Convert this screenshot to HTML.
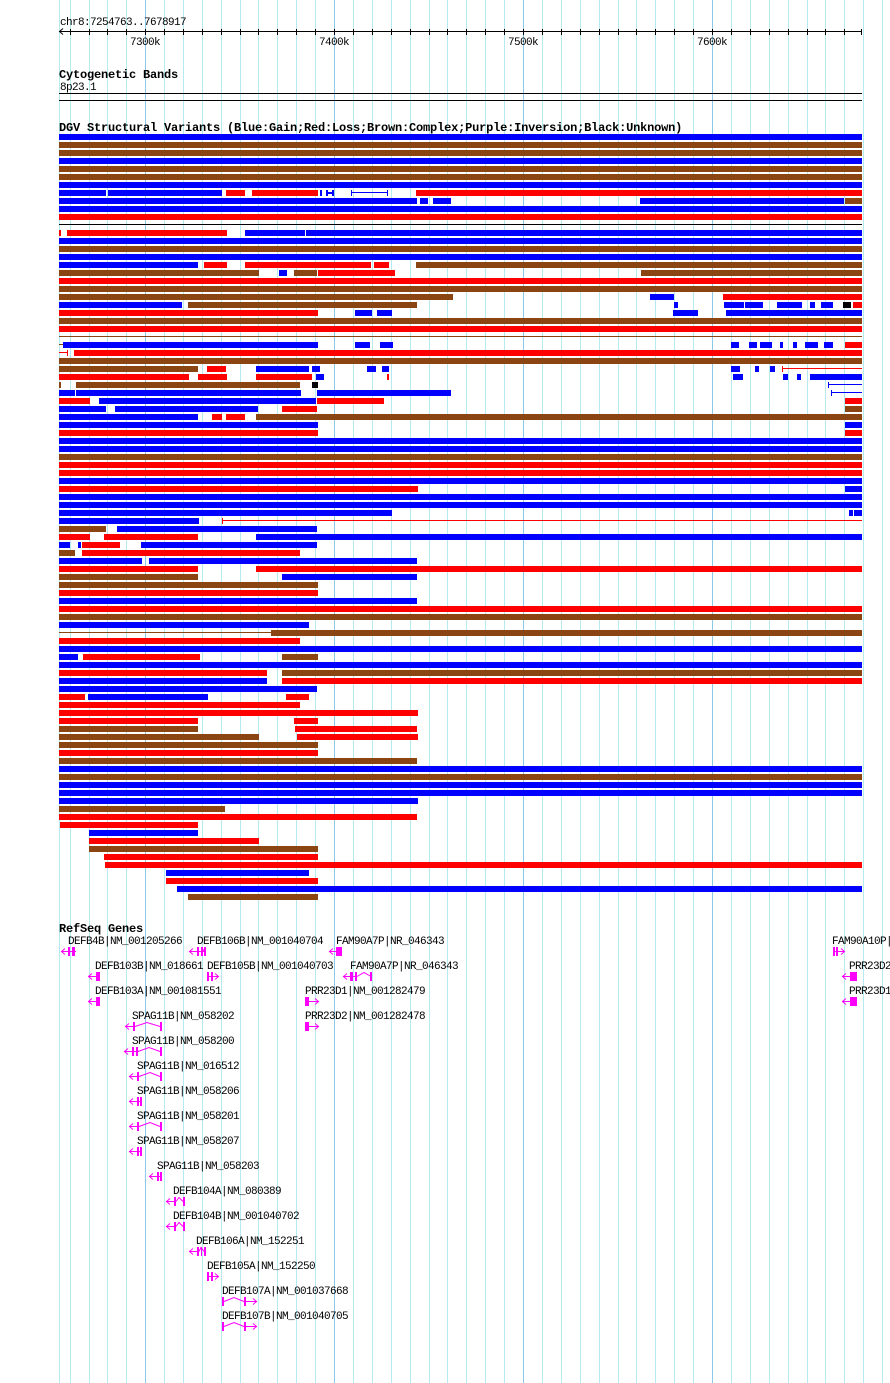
<!DOCTYPE html>
<html><head><meta charset="utf-8"><style>
html,body{margin:0;padding:0;background:#fff;}
svg{display:block;}
.b{fill:#0000ff}.r{fill:#ff0000}.n{fill:#8b4513}.k{fill:#000}
text{font-family:"Liberation Mono",monospace;font-size:11px;letter-spacing:-0.6px;fill:#000}
.t{font-weight:bold;font-size:12px;letter-spacing:-0.2px}
.g line,.g path,.g polyline{stroke:#ff00ff;fill:none;stroke-width:1}
.g rect{fill:#ff00ff}
</style></head><body>
<svg width="890" height="1383" viewBox="0 0 890 1383" xmlns="http://www.w3.org/2000/svg">
<g stroke="#b4eaf0" stroke-width="1">
<line x1="59.5" y1="0" x2="59.5" y2="1383"/>
<line x1="70.5" y1="0" x2="70.5" y2="1383"/><line x1="89.5" y1="0" x2="89.5" y2="1383"/><line x1="107.5" y1="0" x2="107.5" y2="1383"/><line x1="126.5" y1="0" x2="126.5" y2="1383"/>
<line x1="164.5" y1="0" x2="164.5" y2="1383"/><line x1="183.5" y1="0" x2="183.5" y2="1383"/><line x1="202.5" y1="0" x2="202.5" y2="1383"/><line x1="221.5" y1="0" x2="221.5" y2="1383"/><line x1="240.5" y1="0" x2="240.5" y2="1383"/><line x1="258.5" y1="0" x2="258.5" y2="1383"/><line x1="277.5" y1="0" x2="277.5" y2="1383"/><line x1="296.5" y1="0" x2="296.5" y2="1383"/><line x1="315.5" y1="0" x2="315.5" y2="1383"/>
<line x1="353.5" y1="0" x2="353.5" y2="1383"/><line x1="372.5" y1="0" x2="372.5" y2="1383"/><line x1="391.5" y1="0" x2="391.5" y2="1383"/><line x1="410.5" y1="0" x2="410.5" y2="1383"/><line x1="429.5" y1="0" x2="429.5" y2="1383"/><line x1="447.5" y1="0" x2="447.5" y2="1383"/><line x1="466.5" y1="0" x2="466.5" y2="1383"/><line x1="485.5" y1="0" x2="485.5" y2="1383"/><line x1="504.5" y1="0" x2="504.5" y2="1383"/>
<line x1="542.5" y1="0" x2="542.5" y2="1383"/><line x1="561.5" y1="0" x2="561.5" y2="1383"/><line x1="580.5" y1="0" x2="580.5" y2="1383"/><line x1="599.5" y1="0" x2="599.5" y2="1383"/><line x1="618.5" y1="0" x2="618.5" y2="1383"/><line x1="636.5" y1="0" x2="636.5" y2="1383"/><line x1="655.5" y1="0" x2="655.5" y2="1383"/><line x1="674.5" y1="0" x2="674.5" y2="1383"/><line x1="693.5" y1="0" x2="693.5" y2="1383"/>
<line x1="731.5" y1="0" x2="731.5" y2="1383"/><line x1="750.5" y1="0" x2="750.5" y2="1383"/><line x1="769.5" y1="0" x2="769.5" y2="1383"/><line x1="788.5" y1="0" x2="788.5" y2="1383"/><line x1="807.5" y1="0" x2="807.5" y2="1383"/><line x1="825.5" y1="0" x2="825.5" y2="1383"/><line x1="844.5" y1="0" x2="844.5" y2="1383"/><line x1="863.5" y1="0" x2="863.5" y2="1383"/><line x1="882.5" y1="0" x2="882.5" y2="1383"/>
</g>
<g stroke="#8cc8e8" stroke-width="1">
<line x1="145.5" y1="0" x2="145.5" y2="1383"/><line x1="334.5" y1="0" x2="334.5" y2="1383"/><line x1="523.5" y1="0" x2="523.5" y2="1383"/><line x1="712.5" y1="0" x2="712.5" y2="1383"/>
</g>
<text x="60" y="25">chr8:7254763..7678917</text>
<g stroke="#000" stroke-width="1">
<line x1="59" y1="31.5" x2="862" y2="31.5"/>
<polyline points="63,28.5 59.5,31.5 63,34.5" fill="none"/>
<line x1="70.5" y1="29" x2="70.5" y2="35"/><line x1="89.5" y1="29" x2="89.5" y2="35"/><line x1="107.5" y1="29" x2="107.5" y2="35"/><line x1="126.5" y1="29" x2="126.5" y2="35"/><line x1="145.5" y1="29" x2="145.5" y2="35"/><line x1="164.5" y1="29" x2="164.5" y2="35"/><line x1="183.5" y1="29" x2="183.5" y2="35"/><line x1="202.5" y1="29" x2="202.5" y2="35"/><line x1="221.5" y1="29" x2="221.5" y2="35"/><line x1="240.5" y1="29" x2="240.5" y2="35"/><line x1="258.5" y1="29" x2="258.5" y2="35"/><line x1="277.5" y1="29" x2="277.5" y2="35"/><line x1="296.5" y1="29" x2="296.5" y2="35"/><line x1="315.5" y1="29" x2="315.5" y2="35"/><line x1="334.5" y1="29" x2="334.5" y2="35"/><line x1="353.5" y1="29" x2="353.5" y2="35"/><line x1="372.5" y1="29" x2="372.5" y2="35"/><line x1="391.5" y1="29" x2="391.5" y2="35"/><line x1="410.5" y1="29" x2="410.5" y2="35"/><line x1="429.5" y1="29" x2="429.5" y2="35"/><line x1="447.5" y1="29" x2="447.5" y2="35"/><line x1="466.5" y1="29" x2="466.5" y2="35"/><line x1="485.5" y1="29" x2="485.5" y2="35"/><line x1="504.5" y1="29" x2="504.5" y2="35"/><line x1="523.5" y1="29" x2="523.5" y2="35"/><line x1="542.5" y1="29" x2="542.5" y2="35"/><line x1="561.5" y1="29" x2="561.5" y2="35"/><line x1="580.5" y1="29" x2="580.5" y2="35"/><line x1="599.5" y1="29" x2="599.5" y2="35"/><line x1="618.5" y1="29" x2="618.5" y2="35"/><line x1="636.5" y1="29" x2="636.5" y2="35"/><line x1="655.5" y1="29" x2="655.5" y2="35"/><line x1="674.5" y1="29" x2="674.5" y2="35"/><line x1="693.5" y1="29" x2="693.5" y2="35"/><line x1="712.5" y1="29" x2="712.5" y2="35"/><line x1="731.5" y1="29" x2="731.5" y2="35"/><line x1="750.5" y1="29" x2="750.5" y2="35"/><line x1="769.5" y1="29" x2="769.5" y2="35"/><line x1="788.5" y1="29" x2="788.5" y2="35"/><line x1="807.5" y1="29" x2="807.5" y2="35"/><line x1="825.5" y1="29" x2="825.5" y2="35"/><line x1="844.5" y1="29" x2="844.5" y2="35"/><line x1="861.5" y1="29" x2="861.5" y2="35"/>
</g>
<text x="145" y="45" text-anchor="middle">7300k</text>
<text x="334" y="45" text-anchor="middle">7400k</text>
<text x="523" y="45" text-anchor="middle">7500k</text>
<text x="712" y="45" text-anchor="middle">7600k</text>
<text class="t" x="59" y="78">Cytogenetic Bands</text>
<text x="60" y="90">8p23.1</text>
<rect x="59" y="93" width="803" height="1" class="k"/>
<rect x="59" y="100" width="803" height="1" class="k"/>
<text class="t" x="59" y="131">DGV Structural Variants (Blue:Gain;Red:Loss;Brown:Complex;Purple:Inversion;Black:Unknown)</text>
<g>
<rect class="b" x="59" y="134" width="803" height="6"/>
<rect class="n" x="59" y="142" width="803" height="6"/>
<rect class="n" x="59" y="150" width="803" height="6"/>
<rect class="b" x="59" y="158" width="803" height="6"/>
<rect class="n" x="59" y="166" width="803" height="6"/>
<rect class="n" x="59" y="174" width="803" height="6"/>
<rect class="b" x="59" y="182" width="803" height="6"/>
<rect class="b" x="59" y="190" width="47" height="6"/><rect class="b" x="108" y="190" width="114" height="6"/><rect class="r" x="226" y="190" width="19" height="6"/><rect class="r" x="252" y="190" width="66" height="6"/><rect class="b" x="320" y="190" width="2" height="6"/><rect class="b" x="326" y="190" width="2" height="6"/><rect class="b" x="326" y="192" width="8" height="2"/><rect class="b" x="332" y="190" width="2" height="6"/><rect class="b" x="351" y="192" width="37" height="1"/><rect class="b" x="351" y="190" width="1" height="6"/><rect class="b" x="387" y="190" width="1" height="6"/><rect class="r" x="416" y="190" width="446" height="6"/>
<rect class="b" x="59" y="198" width="358" height="6"/><rect class="b" x="420" y="198" width="8" height="6"/><rect class="b" x="433" y="198" width="18" height="6"/><rect class="b" x="640" y="198" width="204" height="6"/><rect class="n" x="845" y="198" width="17" height="6"/>
<rect class="b" x="59" y="206" width="803" height="6"/>
<rect class="r" x="59" y="214" width="803" height="6"/>
<rect class="k" x="59" y="224" width="803" height="1"/>
<rect class="r" x="59" y="230" width="2" height="6"/><rect class="r" x="67" y="230" width="160" height="6"/><rect class="b" x="245" y="230" width="60" height="6"/><rect class="b" x="306" y="230" width="556" height="6"/>
<rect class="b" x="59" y="238" width="803" height="6"/>
<rect class="n" x="59" y="246" width="803" height="6"/>
<rect class="b" x="59" y="254" width="803" height="6"/>
<rect class="b" x="59" y="262" width="139" height="6"/><rect class="r" x="204" y="262" width="23" height="6"/><rect class="r" x="245" y="262" width="126" height="6"/><rect class="r" x="374" y="262" width="15" height="6"/><rect class="n" x="416" y="262" width="446" height="6"/>
<rect class="n" x="59" y="270" width="200" height="6"/><rect class="b" x="279" y="270" width="8" height="6"/><rect class="n" x="294" y="270" width="23" height="6"/><rect class="r" x="318" y="270" width="77" height="6"/><rect class="n" x="641" y="270" width="221" height="6"/>
<rect class="r" x="59" y="278" width="803" height="6"/>
<rect class="n" x="59" y="286" width="803" height="6"/>
<rect class="n" x="59" y="294" width="394" height="6"/><rect class="b" x="650" y="294" width="24" height="6"/><rect class="r" x="723" y="294" width="139" height="6"/>
<rect class="b" x="59" y="302" width="123" height="6"/><rect class="n" x="188" y="302" width="229" height="6"/><rect class="b" x="674" y="302" width="4" height="6"/><rect class="b" x="724" y="302" width="20" height="6"/><rect class="b" x="745" y="302" width="18" height="6"/><rect class="b" x="777" y="302" width="25" height="6"/><rect class="b" x="810" y="302" width="5" height="6"/><rect class="b" x="821" y="302" width="12" height="6"/><rect class="k" x="843" y="302" width="8" height="6"/><rect class="r" x="853" y="302" width="9" height="6"/>
<rect class="r" x="59" y="310" width="259" height="6"/><rect class="b" x="355" y="310" width="17" height="6"/><rect class="b" x="377" y="310" width="15" height="6"/><rect class="b" x="673" y="310" width="25" height="6"/><rect class="b" x="726" y="310" width="136" height="6"/>
<rect class="n" x="59" y="318" width="803" height="6"/>
<rect class="r" x="59" y="326" width="803" height="6"/>
<rect class="n" x="59" y="336" width="803" height="1"/>
<rect class="n" x="59" y="344" width="4" height="1"/><rect class="b" x="63" y="342" width="255" height="6"/><rect class="b" x="355" y="342" width="15" height="6"/><rect class="b" x="380" y="342" width="13" height="6"/><rect class="b" x="731" y="342" width="8" height="6"/><rect class="b" x="749" y="342" width="8" height="6"/><rect class="b" x="760" y="342" width="12" height="6"/><rect class="b" x="780" y="342" width="3" height="6"/><rect class="b" x="793" y="342" width="4" height="6"/><rect class="b" x="805" y="342" width="13" height="6"/><rect class="b" x="824" y="342" width="9" height="6"/><rect class="r" x="845" y="342" width="17" height="6"/>
<rect class="r" x="59" y="352" width="9" height="1"/><rect class="r" x="67" y="350" width="1" height="6"/><rect class="r" x="74" y="350" width="788" height="6"/>
<rect class="n" x="59" y="358" width="803" height="6"/>
<rect class="n" x="59" y="366" width="139" height="6"/><rect class="r" x="207" y="366" width="19" height="6"/><rect class="b" x="256" y="366" width="53" height="6"/><rect class="b" x="312" y="366" width="8" height="6"/><rect class="b" x="367" y="366" width="9" height="6"/><rect class="b" x="382" y="366" width="7" height="6"/><rect class="b" x="731" y="366" width="9" height="6"/><rect class="b" x="755" y="366" width="4" height="6"/><rect class="b" x="770" y="366" width="5" height="6"/><rect class="r" x="782" y="366" width="1" height="6"/><rect class="r" x="782" y="368" width="80" height="1"/>
<rect class="r" x="59" y="374" width="130" height="6"/><rect class="r" x="198" y="374" width="29" height="6"/><rect class="r" x="256" y="374" width="56" height="6"/><rect class="b" x="316" y="374" width="8" height="6"/><rect class="r" x="387" y="374" width="2" height="6"/><rect class="b" x="733" y="374" width="10" height="6"/><rect class="b" x="783" y="374" width="5" height="6"/><rect class="b" x="797" y="374" width="4" height="6"/><rect class="b" x="810" y="374" width="52" height="6"/>
<rect class="n" x="59" y="382" width="2" height="6"/><rect class="n" x="76" y="382" width="224" height="6"/><rect class="k" x="312" y="382" width="6" height="6"/><rect class="b" x="828" y="382" width="1" height="6"/><rect class="b" x="828" y="384" width="34" height="1"/>
<rect class="b" x="59" y="390" width="16" height="6"/><rect class="b" x="76" y="390" width="225" height="6"/><rect class="b" x="317" y="390" width="134" height="6"/><rect class="b" x="831" y="390" width="1" height="6"/><rect class="b" x="831" y="392" width="31" height="1"/>
<rect class="r" x="59" y="398" width="31" height="6"/><rect class="b" x="99" y="398" width="217" height="6"/><rect class="r" x="317" y="398" width="67" height="6"/><rect class="r" x="845" y="398" width="17" height="6"/>
<rect class="b" x="59" y="406" width="47" height="6"/><rect class="b" x="115" y="406" width="143" height="6"/><rect class="r" x="282" y="406" width="35" height="6"/><rect class="n" x="845" y="406" width="17" height="6"/>
<rect class="b" x="59" y="414" width="139" height="6"/><rect class="r" x="212" y="414" width="10" height="6"/><rect class="r" x="226" y="414" width="19" height="6"/><rect class="n" x="256" y="414" width="606" height="6"/>
<rect class="b" x="59" y="422" width="259" height="6"/><rect class="b" x="845" y="422" width="17" height="6"/>
<rect class="r" x="59" y="430" width="259" height="6"/><rect class="r" x="845" y="430" width="17" height="6"/>
<rect class="b" x="59" y="438" width="803" height="6"/>
<rect class="b" x="59" y="446" width="803" height="6"/>
<rect class="n" x="59" y="454" width="803" height="6"/>
<rect class="r" x="59" y="462" width="803" height="6"/>
<rect class="r" x="59" y="470" width="803" height="6"/>
<rect class="b" x="59" y="478" width="803" height="6"/>
<rect class="r" x="59" y="486" width="359" height="6"/><rect class="b" x="845" y="486" width="17" height="6"/>
<rect class="b" x="59" y="494" width="803" height="6"/>
<rect class="b" x="59" y="502" width="803" height="6"/>
<rect class="b" x="59" y="510" width="333" height="6"/><rect class="b" x="849" y="510" width="4" height="6"/><rect class="b" x="854" y="510" width="8" height="6"/>
<rect class="b" x="59" y="518" width="140" height="6"/><rect class="r" x="222" y="518" width="1" height="6"/><rect class="r" x="222" y="520" width="640" height="1"/>
<rect class="n" x="59" y="526" width="47" height="6"/><rect class="b" x="117" y="526" width="200" height="6"/>
<rect class="r" x="59" y="534" width="31" height="6"/><rect class="r" x="104" y="534" width="94" height="6"/><rect class="b" x="256" y="534" width="606" height="6"/>
<rect class="b" x="59" y="542" width="11" height="6"/><rect class="b" x="78" y="542" width="3" height="6"/><rect class="r" x="82" y="542" width="38" height="6"/><rect class="b" x="141" y="542" width="176" height="6"/>
<rect class="n" x="59" y="550" width="16" height="6"/><rect class="r" x="82" y="550" width="218" height="6"/>
<rect class="b" x="59" y="558" width="83" height="6"/><rect class="b" x="149" y="558" width="268" height="6"/>
<rect class="r" x="59" y="566" width="139" height="6"/><rect class="r" x="256" y="566" width="606" height="6"/>
<rect class="n" x="59" y="574" width="139" height="6"/><rect class="b" x="282" y="574" width="135" height="6"/>
<rect class="n" x="59" y="582" width="259" height="6"/>
<rect class="r" x="59" y="590" width="259" height="6"/>
<rect class="b" x="59" y="598" width="358" height="6"/>
<rect class="r" x="59" y="606" width="803" height="6"/>
<rect class="n" x="59" y="614" width="803" height="6"/>
<rect class="b" x="59" y="622" width="250" height="6"/>
<rect class="n" x="59" y="632" width="212" height="1"/><rect class="n" x="271" y="630" width="591" height="6"/>
<rect class="r" x="59" y="638" width="241" height="6"/>
<rect class="b" x="59" y="646" width="803" height="6"/>
<rect class="b" x="59" y="654" width="19" height="6"/><rect class="r" x="83" y="654" width="117" height="6"/><rect class="n" x="282" y="654" width="36" height="6"/>
<rect class="b" x="59" y="662" width="803" height="6"/>
<rect class="r" x="59" y="670" width="208" height="6"/><rect class="n" x="282" y="670" width="580" height="6"/>
<rect class="b" x="59" y="678" width="208" height="6"/><rect class="r" x="282" y="678" width="580" height="6"/>
<rect class="b" x="59" y="686" width="258" height="6"/>
<rect class="r" x="59" y="694" width="26" height="6"/><rect class="b" x="88" y="694" width="120" height="6"/><rect class="r" x="286" y="694" width="23" height="6"/>
<rect class="r" x="59" y="702" width="241" height="6"/>
<rect class="r" x="59" y="710" width="359" height="6"/>
<rect class="r" x="59" y="718" width="139" height="6"/><rect class="r" x="294" y="718" width="24" height="6"/>
<rect class="n" x="59" y="726" width="139" height="6"/><rect class="r" x="295" y="726" width="122" height="6"/>
<rect class="n" x="59" y="734" width="200" height="6"/><rect class="r" x="297" y="734" width="121" height="6"/>
<rect class="n" x="59" y="742" width="259" height="6"/>
<rect class="r" x="59" y="750" width="259" height="6"/>
<rect class="n" x="59" y="758" width="358" height="6"/>
<rect class="b" x="59" y="766" width="803" height="6"/>
<rect class="n" x="59" y="774" width="803" height="6"/>
<rect class="b" x="59" y="782" width="803" height="6"/>
<rect class="b" x="59" y="790" width="803" height="6"/>
<rect class="b" x="59" y="798" width="359" height="6"/>
<rect class="n" x="59" y="806" width="166" height="6"/>
<rect class="r" x="59" y="814" width="358" height="6"/>
<rect class="r" x="60" y="822" width="138" height="6"/>
<rect class="b" x="89" y="830" width="109" height="6"/>
<rect class="r" x="89" y="838" width="170" height="6"/>
<rect class="n" x="89" y="846" width="229" height="6"/>
<rect class="r" x="104" y="854" width="214" height="6"/>
<rect class="r" x="105" y="862" width="757" height="6"/>
<rect class="b" x="166" y="870" width="143" height="6"/>
<rect class="r" x="166" y="878" width="152" height="6"/>
<rect class="b" x="177" y="886" width="685" height="6"/>
<rect class="n" x="188" y="894" width="130" height="6"/>
</g>
<text class="t" x="59" y="932">RefSeq Genes</text>
<text x="68" y="944">DEFB4B|NM_001205266</text>
<text x="197" y="944">DEFB106B|NM_001040704</text>
<text x="336" y="944">FAM90A7P|NR_046343</text>
<text x="832" y="944">FAM90A10P|</text>
<text x="95" y="969">DEFB103B|NM_018661</text>
<text x="207" y="969">DEFB105B|NM_001040703</text>
<text x="350" y="969">FAM90A7P|NR_046343</text>
<text x="849" y="969">PRR23D2</text>
<text x="95" y="994">DEFB103A|NM_001081551</text>
<text x="305" y="994">PRR23D1|NM_001282479</text>
<text x="849" y="994">PRR23D1</text>
<text x="132" y="1019">SPAG11B|NM_058202</text>
<text x="305" y="1019">PRR23D2|NM_001282478</text>
<text x="132" y="1044">SPAG11B|NM_058200</text>
<text x="137" y="1069">SPAG11B|NM_016512</text>
<text x="137" y="1094">SPAG11B|NM_058206</text>
<text x="137" y="1119">SPAG11B|NM_058201</text>
<text x="137" y="1144">SPAG11B|NM_058207</text>
<text x="157" y="1169">SPAG11B|NM_058203</text>
<text x="173" y="1194">DEFB104A|NM_080389</text>
<text x="173" y="1219">DEFB104B|NM_001040702</text>
<text x="196" y="1244">DEFB106A|NM_152251</text>
<text x="207" y="1269">DEFB105A|NM_152250</text>
<text x="222" y="1294">DEFB107A|NM_001037668</text>
<text x="222" y="1319">DEFB107B|NM_001040705</text>
<g class="g">
<line x1="61" y1="951.5" x2="76" y2="951.5"/><polyline points="65,948.5 61.5,951.5 65,954.5"/><rect x="68" y="947" width="2" height="9"/><rect x="72" y="947" width="3" height="9"/>
<line x1="189" y1="951.5" x2="206" y2="951.5"/><polyline points="193,948.5 189.5,951.5 193,954.5"/><rect x="197" y="947" width="2" height="9"/><rect x="201" y="947" width="2" height="9"/><rect x="204" y="947" width="2" height="9"/><polyline points="202,948 204,951"/>
<line x1="329" y1="951.5" x2="342" y2="951.5"/><polyline points="333,948.5 329.5,951.5 333,954.5"/><rect x="336" y="947" width="6" height="9"/>
<line x1="833" y1="951.5" x2="845" y2="951.5"/><polyline points="841,948.5 844.5,951.5 841,954.5"/><rect x="833" y="947" width="2" height="9"/><rect x="836" y="947" width="2" height="9"/>
<line x1="88" y1="976.5" x2="100" y2="976.5"/><polyline points="92,973.5 88.5,976.5 92,979.5"/><rect x="96" y="972" width="4" height="9"/>
<line x1="207" y1="976.5" x2="219" y2="976.5"/><polyline points="215,973.5 218.5,976.5 215,979.5"/><rect x="207" y="972" width="2" height="9"/><rect x="211" y="972" width="2" height="9"/>
<line x1="343" y1="976.5" x2="357" y2="976.5"/><polyline points="347,973.5 343.5,976.5 347,979.5"/><rect x="350" y="972" width="3" height="9"/><rect x="355" y="972" width="2" height="9"/><polyline points="357,976.5 364,972.5 371,976.5"/><rect x="370" y="972" width="2" height="9"/>
<line x1="842" y1="976.5" x2="857" y2="976.5"/><polyline points="846,973.5 842.5,976.5 846,979.5"/><rect x="850" y="972" width="7" height="9"/>
<line x1="88" y1="1001.5" x2="100" y2="1001.5"/><polyline points="92,998.5 88.5,1001.5 92,1004.5"/><rect x="96" y="997" width="4" height="9"/>
<line x1="305" y1="1001.5" x2="319" y2="1001.5"/><polyline points="315,998.5 318.5,1001.5 315,1004.5"/><rect x="305" y="997" width="4" height="9"/>
<line x1="842" y1="1001.5" x2="857" y2="1001.5"/><polyline points="846,998.5 842.5,1001.5 846,1004.5"/><rect x="850" y="997" width="7" height="9"/>
<line x1="125" y1="1026.5" x2="134" y2="1026.5"/><polyline points="129,1023.5 125.5,1026.5 129,1029.5"/><rect x="133" y="1022" width="2" height="9"/><polyline points="135,1026.5 147,1022.5 160,1026.5"/><rect x="160" y="1022" width="2" height="9"/>
<line x1="305" y1="1026.5" x2="319" y2="1026.5"/><polyline points="315,1023.5 318.5,1026.5 315,1029.5"/><rect x="305" y="1022" width="4" height="9"/>
<line x1="124" y1="1051.5" x2="139" y2="1051.5"/><polyline points="128,1048.5 124.5,1051.5 128,1054.5"/><rect x="132" y="1047" width="2" height="9"/><rect x="136" y="1047" width="2" height="9"/><polyline points="138,1051.5 149,1047.5 160,1051.5"/><rect x="160" y="1047" width="2" height="9"/>
<line x1="129" y1="1076.5" x2="139" y2="1076.5"/><polyline points="133,1073.5 129.5,1076.5 133,1079.5"/><rect x="137" y="1072" width="2" height="9"/><polyline points="139,1076.5 150,1072.5 160,1076.5"/><rect x="160" y="1072" width="2" height="9"/>
<line x1="129" y1="1101.5" x2="142" y2="1101.5"/><polyline points="133,1098.5 129.5,1101.5 133,1104.5"/><rect x="137" y="1097" width="2" height="9"/><rect x="140" y="1097" width="2" height="9"/>
<line x1="129" y1="1126.5" x2="139" y2="1126.5"/><polyline points="133,1123.5 129.5,1126.5 133,1129.5"/><rect x="137" y="1122" width="2" height="9"/><polyline points="139,1126.5 150,1122.5 160,1126.5"/><rect x="160" y="1122" width="2" height="9"/>
<line x1="129" y1="1151.5" x2="142" y2="1151.5"/><polyline points="133,1148.5 129.5,1151.5 133,1154.5"/><rect x="137" y="1147" width="2" height="9"/><rect x="140" y="1147" width="2" height="9"/>
<line x1="149" y1="1176.5" x2="162" y2="1176.5"/><polyline points="153,1173.5 149.5,1176.5 153,1179.5"/><rect x="157" y="1172" width="2" height="9"/><rect x="160" y="1172" width="2" height="9"/>
<line x1="166" y1="1201.5" x2="176" y2="1201.5"/><polyline points="170,1198.5 166.5,1201.5 170,1204.5"/><rect x="174" y="1197" width="2" height="9"/><polyline points="176,1201.5 179,1197.5 183,1201.5"/><rect x="183" y="1197" width="2" height="9"/>
<line x1="166" y1="1226.5" x2="176" y2="1226.5"/><polyline points="170,1223.5 166.5,1226.5 170,1229.5"/><rect x="174" y="1222" width="2" height="9"/><polyline points="176,1226.5 179,1222.5 183,1226.5"/><rect x="183" y="1222" width="2" height="9"/>
<line x1="189" y1="1251.5" x2="199" y2="1251.5"/><polyline points="193,1248.5 189.5,1251.5 193,1254.5"/><rect x="197" y="1247" width="2" height="9"/><polyline points="199,1251.5 201,1247.5 204,1251.5"/><rect x="201" y="1247" width="1" height="9"/><rect x="204" y="1247" width="2" height="9"/>
<line x1="207" y1="1276.5" x2="219" y2="1276.5"/><polyline points="215,1273.5 218.5,1276.5 215,1279.5"/><rect x="207" y="1272" width="2" height="9"/><rect x="211" y="1272" width="2" height="9"/>
<rect x="222" y="1297" width="2" height="9"/><polyline points="224,1301.5 234,1297.5 244,1301.5"/><line x1="244" y1="1301.5" x2="257" y2="1301.5"/><rect x="244" y="1297" width="2" height="9"/><polyline points="253,1298.5 256.5,1301.5 253,1304.5"/>
<rect x="222" y="1322" width="2" height="9"/><polyline points="224,1326.5 234,1322.5 244,1326.5"/><line x1="244" y1="1326.5" x2="257" y2="1326.5"/><rect x="244" y="1322" width="2" height="9"/><polyline points="253,1323.5 256.5,1326.5 253,1329.5"/>
</g>
</svg>
</body></html>
